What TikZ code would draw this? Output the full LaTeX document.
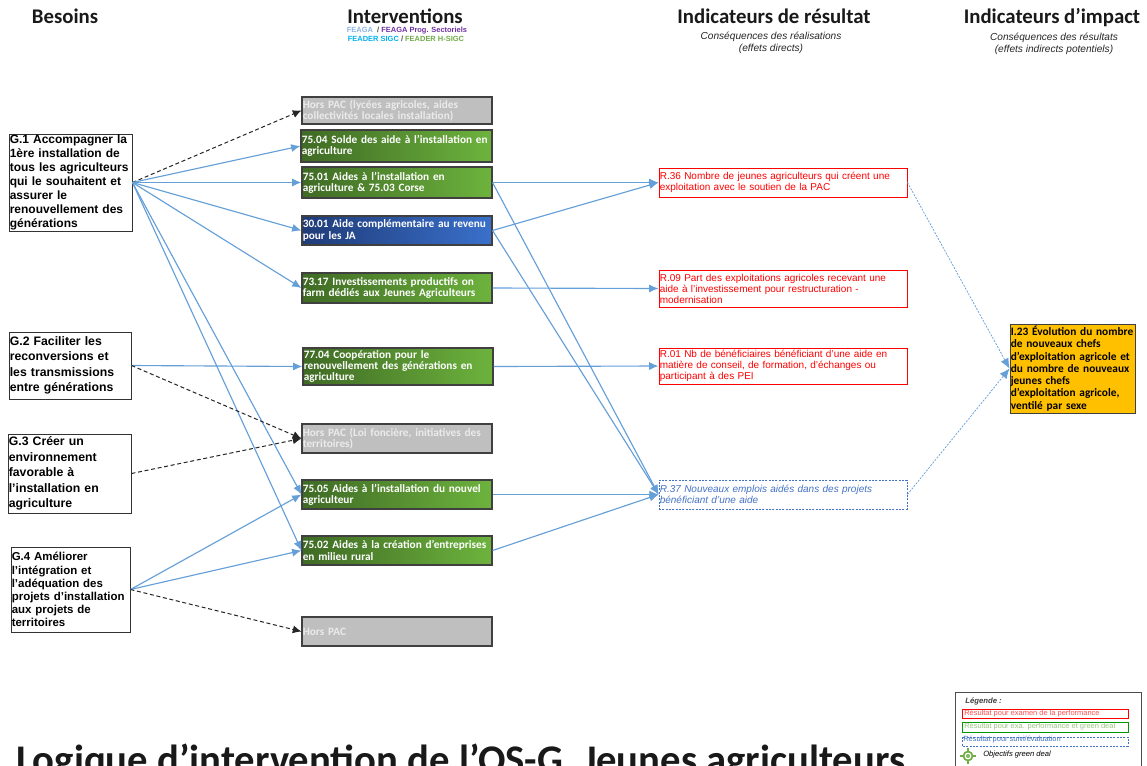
\documentclass[tikz,border=0pt]{standalone}
\usepackage{fontspec}
\setmainfont{Liberation Sans}
\newfontfamily\carl{Carlito}
\usetikzlibrary{arrows.meta,shadings}
\definecolor{linkblue}{HTML}{659FD8}
\definecolor{greenD}{HTML}{3F6A24}
\definecolor{greenL}{HTML}{6DB33D}
\definecolor{blueD}{HTML}{1F3B78}
\definecolor{blueL}{HTML}{3A70CB}
\definecolor{rblue}{HTML}{4472C4}
\definecolor{frame}{HTML}{404040}
\definecolor{amber}{HTML}{FFC000}
\definecolor{leggreen}{HTML}{70AD47}
\tikzset{
  base/.style={draw=frame,line width=0.8pt,inner xsep=0.6pt,inner ysep=0pt,align=left},
  need/.style={draw=black!80,line width=0.7pt,inner xsep=0.6pt,inner ysep=0pt,align=left,fill=white,text=black},
  needA/.style={need,font=\fontsize{9}{10.6}\selectfont\bfseries},
  needB/.style={need,font=\fontsize{9.2}{11.6}\selectfont\bfseries},
  needC/.style={need,font=\fontsize{8.6}{9.8}\selectfont\bfseries},
  act/.style={base,text=white,font=\carl\fontsize{8.45}{8.4}\selectfont\bfseries},
  green/.style={act,left color=greenD,right color=greenL},
  bluebox/.style={act,left color=blueD,right color=blueL},
  grey/.style={act,fill=black!25,text=white!92!black},
  res/.style={draw=red,line width=0.7pt,fill=white,text=red,inner xsep=0.6pt,inner ysep=0pt,align=left,font=\fontsize{7.5}{8.2}\selectfont},
  resb/.style={draw=rblue,dashed,dash pattern=on 1.5pt off 1pt,line width=0.6pt,fill=white,text=rblue,inner xsep=0.6pt,inner ysep=0pt,align=left,font=\fontsize{7.5}{8.2}\selectfont\itshape},
  impact/.style={draw=frame,line width=0.7pt,fill=amber,text=black,inner xsep=0.6pt,inner ysep=0pt,align=left,font=\carl\fontsize{8.5}{9.2}\selectfont\bfseries},
  head/.style={font=\carl\fontsize{15.6}{17}\selectfont\bfseries,inner sep=0pt,text=black!90,anchor=base},
  sub/.style={font=\fontsize{7.6}{9}\selectfont\itshape,align=center,inner sep=0pt,text=black!85},
  lnk/.style={draw=linkblue,line width=0.85pt,-{Latex[length=7pt,width=6pt]}},
  dsh/.style={draw=black!85,line width=0.75pt,dashed,dash pattern=on 3pt off 2pt,-{Latex[length=6.5pt,width=6pt]}},
  imp/.style={draw=linkblue,line width=0.55pt,dashed,dash pattern=on 1.5pt off 1pt,-{Latex[length=7.5pt,width=6.5pt]}},
  leg/.style={font=\fontsize{5.6}{6}\selectfont,inner sep=0pt,anchor=west},
  legbox/.style={line width=0.7pt,fill=white,inner sep=0pt},
}
\newcommand{\bx}[7]{%
  \pgfmathsetlengthmacro{\tw}{(#5-#3)*0.75pt-1.2pt}%
  \pgfmathsetlengthmacro{\th}{(#6-#4)*0.75pt}%
  \pgfmathsetlengthmacro{\mw}{(#5-#3)*0.75pt}%
  \node[#2,minimum width=\mw,minimum height=\th,text width=\tw] (#1) at ({(#3+#5)/2},{(#4+#6)/2}) {#7};}
\begin{document}
\begin{tikzpicture}[x=0.75pt,y=-0.75pt]
\useasboundingbox (0,0) rectangle (1147,765);
\clip (0,0) rectangle (1147,765);
\fill[white] (0,0) rectangle (1147,765);

% Headers
\node[head] (hB) at (65,23) {Besoins};
\node[head] (hI) at (405,23) {Interventions};
\node[head] (hR) at (774,23) {Indicateurs de résultat};
\node[head] (hP) at (1052,23) {Indicateurs d’impact};
\node[inner sep=0pt,font=\fontsize{5.6}{6}\selectfont\bfseries] (s1) at (407,30.5) {\textcolor[HTML]{8DB4E2}{FEAGA} \ \textcolor{black!70}{/} \textcolor[HTML]{7030A0}{FEAGA Prog. Sectoriels}};
\node[inner sep=0pt,font=\fontsize{5.6}{6}\selectfont\bfseries] (s2) at (406,38.5) {\textcolor[HTML]{00B0F0}{FEADER SIGC} \textcolor{black!70}{/} \textcolor[HTML]{70AD47}{FEADER H-SIGC}};
\node[sub] (sR) at (771,42.5) {Conséquences des réalisations\\(effets directs)};
\node[sub] (sP) at (1054,43.5) {Conséquences des résultats\\(effets indirects potentiels)};

% Needs
\bx{g1}{needA}{9}{134}{132}{231}{G.1 Accompagner la\\1ère installation de\\tous les agriculteurs\\qui le souhaitent et\\assurer le\\renouvellement des\\générations}
\bx{g2}{needB}{9}{332}{131}{399}{G.2 Faciliter les\\reconversions et\\les transmissions\\entre générations}
\bx{g3}{needB}{8}{434}{131}{513}{G.3 Créer un\\environnement\\favorable à\\l’installation en\\agriculture}
\bx{g4}{needC}{11}{547}{130}{632}{G.4 Améliorer\\l’intégration et\\l’adéquation des\\projets d’installation\\aux projets de\\territoires}

% Interventions
\bx{h1}{grey}{302}{97}{492}{124}{Hors PAC (lycées agricoles, aides\\collectivités locales installation)}
\bx{a7504}{green}{301}{130}{492}{162}{75.04 Solde des aide à l’installation en\\agriculture}
\bx{a7501}{green}{302}{167}{492}{198}{75.01 Aides à l’installation en\\agriculture \& 75.03 Corse}
\bx{a3001}{bluebox}{302}{216}{492}{245}{30.01 Aide complémentaire au revenu\\pour les JA}
\bx{a7317}{green}{302}{273}{492}{303}{73.17 Investissements productifs on\\farm dédiés aux Jeunes Agriculteurs}
\bx{a7704}{green}{303}{348}{493}{385}{77.04 Coopération pour le\\renouvellement des générations en\\agriculture}
\bx{h2}{grey}{302}{424}{492}{453}{Hors PAC (Loi foncière, initiatives des\\territoires)}
\bx{a7505}{green}{302}{480}{492}{509}{75.05 Aides à l’installation du nouvel\\agriculteur}
\bx{a7502}{green}{302}{536}{492}{565}{75.02 Aides à la création d’entreprises\\en milieu rural}
\bx{h3}{grey}{302}{617}{492}{646}{Hors PAC}

% Results
\bx{r36}{res}{659}{168}{907}{197}{R.36 Nombre de jeunes agriculteurs qui créent une\\exploitation avec le soutien de la PAC}
\bx{r09}{res}{659}{270}{907}{307}{R.09 Part des exploitations agricoles recevant une\\aide à l’investissement pour restructuration -\\modernisation}
\bx{r01}{res}{659}{348}{907}{384}{R.01 Nb de bénéficiaires bénéficiant d’une aide en\\matière de conseil, de formation, d’échanges ou\\participant à des PEI}
\bx{r37}{resb}{659}{480}{907}{509}{R.37 Nouveaux emplois aidés dans des projets\\bénéficiant d’une aide}

% Impact
\bx{i23}{impact}{1010}{324}{1135}{413}{I.23 Évolution du nombre\\de nouveaux chefs\\d’exploitation agricole et\\du nombre de nouveaux\\jeunes chefs\\d’exploitation agricole,\\ventilé par sexe}

% Connectors
\draw[dsh] (g1.east) -- (h1.west);
\foreach \t in {a7504,a7501,a3001,a7317,a7505,a7502} \draw[lnk] (g1.east) -- (\t.west);
\draw[lnk] (g2.east) -- (a7704.west);
\draw[dsh] (g2.east) -- (h2.west);
\draw[dsh] (g3.east) -- (h2.west);
\draw[lnk] (g4.east) -- (a7505.west);
\draw[lnk] (g4.east) -- (a7502.west);
\draw[dsh] (g4.east) -- (h3.west);
\draw[lnk] (a7501.east) -- (r36.west);
\draw[lnk] (a7501.east) -- (r37.west);
\draw[lnk] (a3001.east) -- (r36.west);
\draw[lnk] (a3001.east) -- (r37.west);
\draw[lnk] (a7317.east) -- (r09.west);
\draw[lnk] (a7704.east) -- (r01.west);
\draw[lnk] (a7505.east) -- (r37.west);
\draw[lnk] (a7502.east) -- (r37.west);
\draw[imp] (r36.east) -- (i23.west);
\draw[imp] (r37.east) -- (i23.west);

% Title (cut by the lower edge, as in the reference)
\node[inner sep=0pt,anchor=base west,font=\carl\fontsize{30.5}{33}\selectfont\bfseries,text=black!90] (title) at (16,773) {Logique d’intervention de l’OS-G. Jeunes agriculteurs};

% Legend
\draw[draw=black!70,line width=0.7pt,fill=white] (955,692) rectangle (1141,775);
\node[leg,font=\fontsize{5.8}{6}\selectfont\bfseries\itshape,text=black!75] (lg) at (965,701) {Légende :};
\draw[legbox,draw=red] (962,709) rectangle (1128,718);
\node[leg,text=red!70] (l1) at (964,713.5) {Résultat pour examen de la performance};
\draw[legbox,draw=green!60!black] (962,722) rectangle (1128,732);
\node[leg,text=leggreen!70] (l2) at (964,727) {Résultat pour exa. performance et green deal};
\draw[legbox,draw=rblue,dashed,dash pattern=on 1.5pt off 1pt] (962,737) rectangle (1128,746);
\node[leg,text=rblue] (l3) at (963,740) {Résultat pour suivi/évaluation};
\draw[draw=leggreen,line width=1.3pt] (968,756) circle (4.5);
\fill[leggreen] (968,756) circle (2);
\draw[draw=leggreen,line width=1pt] (960,756) -- (963,756) (973,756) -- (976,756) (968,748) -- (968,751) (968,761) -- (968,764);
\fill[white] (968,756) circle (0.7);
\node[leg,font=\fontsize{5.7}{6}\selectfont\itshape] (l4) at (983,755) {Objectifs green deal};
\end{tikzpicture}
\end{document}
